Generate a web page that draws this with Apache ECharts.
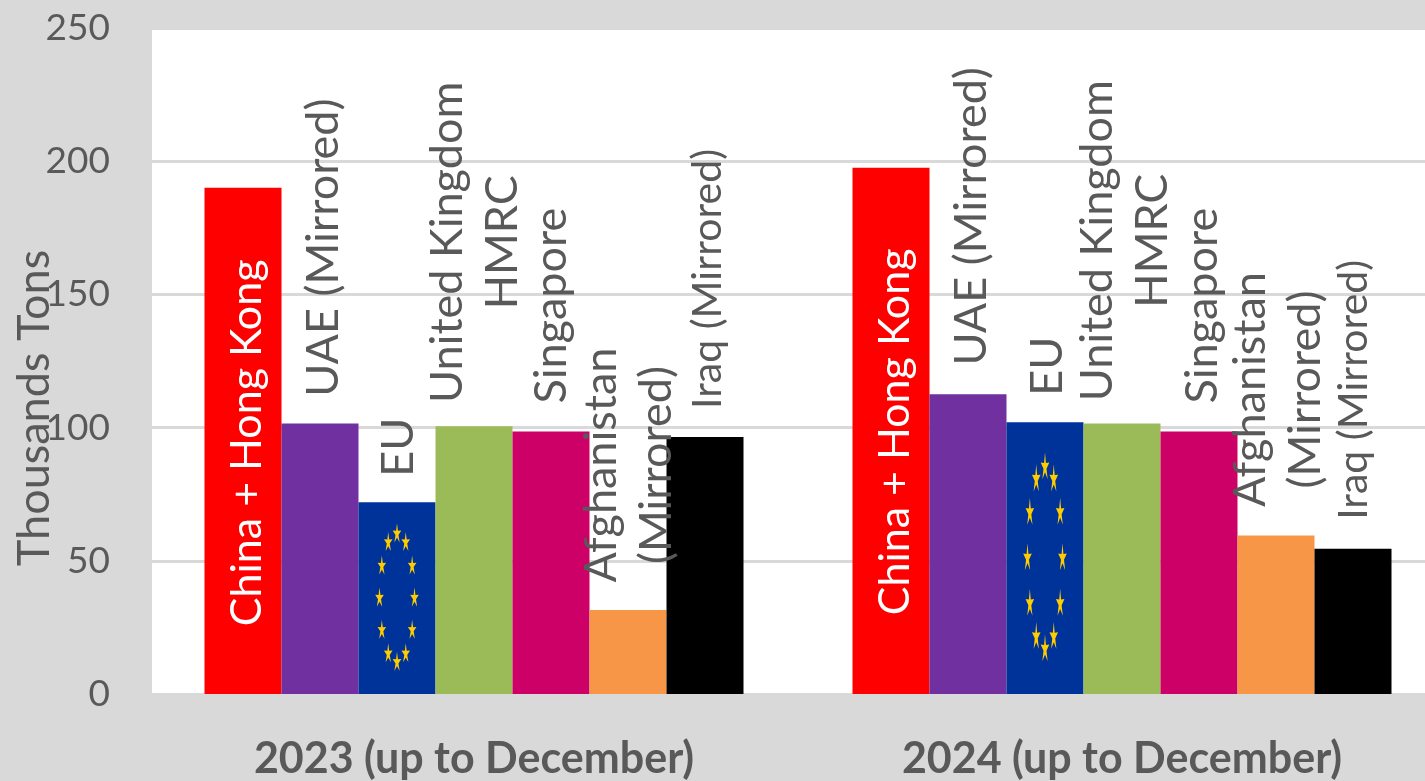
<!DOCTYPE html>
<html>
<head>
<meta charset="utf-8">
<title>Thousands Tons</title>
<style>
  html, body { margin: 0; padding: 0; background: #D9D9D9; }
  #chart { width: 1425px; height: 781px; }
</style>
<script src="https://cdn.jsdelivr.net/npm/echarts@6/dist/echarts.min.js"></script>
</head>
<body>
<div id="chart"></div>
<script>
const years = ['2023 (up to December)', '2024 (up to December)']
const yTicks = { min: 0, max: 250, interval: 50 }

const seriesNames = [
  'China + Hong Kong',
  'UAE (Mirrored)',
  'EU',
  'United Kingdom\nHMRC',
  'Singapore',
  'Afghanistan\n(Mirrored)',
  'Iraq (Mirrored)'
]
const chinaValues = [190, 197.5]
const uaeValues = [101.5, 112.5]
const euValues = [72, 102]
const ukValues = [100.5, 101.5]
const singaporeValues = [98.5, 98.5]
const afghanistanValues = [31.5, 59.5]
const iraqValues = [96.5, 54.5]
const allValues = [chinaValues, uaeValues, euValues, ukValues, singaporeValues, afghanistanValues, iraqValues]

// сдвиг подписей от верха столбца на экране [dx, dy], подобран по картинке
const labelOffsets = [
  [[4.5, 260], [4.5, 269]],
  [[3.5, -171], [3.5, -173]],
  [[1.5, -50], [2.5, -51]],
  [[0.5, -179], [2.5, -178]],
  [[0.5, -121], [3.5, -121]],
  [[0.5, -140], [1.5, -141]],
  [[2.5, -153], [0.5, -154]]
]
const barColors = ['#FF0000', '#7030A0', '#003399', '#9BBB59', '#CC0066', '#F79646', '#000000']

const BAR_WIDTH = 77
const FONT = 'Lato, "Noto Sans", sans-serif'
const TEXT = '#595959'

const chart = echarts.init(document.getElementById('chart'))

// контур пятиконечной звезды, растянутый по осям
function starPoints(cx, cy, rx, ry) {
  const pts = []
  for (let i = 0; i < 10; i++) {
    const a = -Math.PI / 2 + i * Math.PI / 5
    const k = i % 2 === 0 ? 1 : 0.35
    pts.push([cx + Math.cos(a) * rx * k, cy + Math.sin(a) * ry * k])
  }
  return pts
}

// звёзды флага ЕС поверх столбца EU
function renderEuStars(params, api) {
  const idx = api.value(0)
  const top = api.coord([idx, api.value(1)])
  const bottom = api.coord([idx, 0])
  const cx = top[0] - BAR_WIDTH
  const h = bottom[1] - top[1]
  const cy = top[1] + h / 2
  const children = []
  for (let i = 0; i < 12; i++) {
    const a = i * Math.PI / 6
    children.push({
      type: 'polygon',
      shape: { points: starPoints(cx + Math.sin(a) * 17.5, cy - Math.cos(a) * h * 0.335, 4.5, h * 0.055) },
      style: { fill: '#FFCC00' }
    })
  }
  return { type: 'group', children }
}

const barSeries = seriesNames.map((name, i) => ({
  name,
  type: 'bar',
  barWidth: BAR_WIDTH,
  barGap: '0%',
  itemStyle: { color: barColors[i] },
  label: {
    show: true,
    position: 'top',
    rotate: 90,
    align: 'center',
    verticalAlign: 'middle',
    formatter: name,
    fontFamily: FONT,
    fontSize: i === 6 ? 41 : i === 0 ? 43 : 45,
    lineHeight: 55,
    color: i === 0 ? '#FFFFFF' : TEXT
  },
  // offset считается в повёрнутой системе подписи
  data: allValues[i].map((v, j) => ({
    value: v,
    label: { offset: [-labelOffsets[i][j][1], labelOffsets[i][j][0]] }
  }))
}))

const option = {
  backgroundColor: '#D9D9D9',
  animation: false,
  grid: {
    left: 150,
    top: 28,
    width: 1296,
    height: 666,
    outerBoundsMode: 'none',
    show: true,
    backgroundColor: '#FFFFFF',
    borderWidth: 0
  },
  xAxis: {
    type: 'category',
    data: years,
    axisTick: { show: false },
    axisLine: { lineStyle: { color: '#D9D9D9', width: 3 } },
    axisLabel: { color: TEXT, fontFamily: FONT, fontSize: 43, fontWeight: 'bold', margin: 44 }
  },
  yAxis: {
    type: 'value',
    min: yTicks.min,
    max: yTicks.max,
    interval: yTicks.interval,
    name: 'Thousands Tons',
    nameLocation: 'middle',
    nameGap: 93,
    nameRotate: 90,
    nameMoveOverlap: false,
    nameTextStyle: { color: TEXT, fontFamily: FONT, fontSize: 45, padding: [0, 94, 0, 0] },
    axisTick: { show: false },
    axisLine: { show: true, lineStyle: { color: '#D9D9D9', width: 4 } },
    axisLabel: { color: TEXT, fontFamily: FONT, fontSize: 37, margin: 40 },
    splitLine: { lineStyle: { color: '#D9D9D9', width: 3 } }
  },
  series: [
    ...barSeries,
    {
      type: 'custom',
      silent: true,
      z: 5,
      renderItem: renderEuStars,
      encode: { x: 0, y: 1 },
      data: euValues.map((v, j) => [j, v])
    }
  ]
}

chart.setOption(option)
</script>
</body>
</html>
